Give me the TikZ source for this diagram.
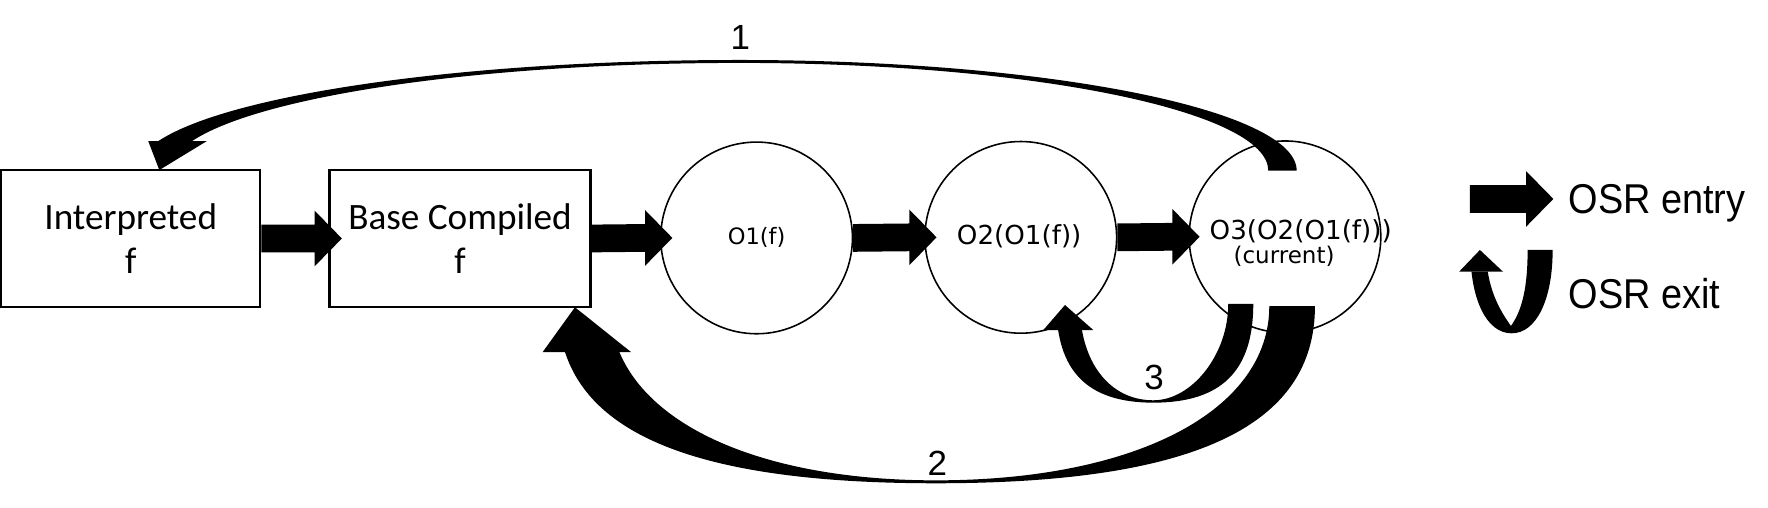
\documentclass[tikz,border=0pt]{standalone}
\usepackage{fontspec}
\setmainfont{Carlito}
\newfontfamily\cfont{DejaVu Sans}
\newfontfamily\afont{Liberation Sans}
\usetikzlibrary{calc}
\newcommand\osrentry[2]{\fill ($(#1)+(0,-12.3)$) -- ($(#2)+(-24.2,-12.3)$) -- ($(#2)+(-24.2,-24.7)$) -- (#2) -- ($(#2)+(-24.2,24.7)$) -- ($(#2)+(-24.2,12.3)$) -- ($(#1)+(0,12.3)$) -- cycle;}
\begin{document}
\begin{tikzpicture}[x=0.5pt,y=-0.5pt,
  boxnode/.style={draw,line width=1pt,minimum height=60.75pt,inner sep=0pt,align=center,font=\fontsize{16.5}{19.5}\selectfont},
  circnode/.style={draw,circle,line width=0.7pt,minimum size=85pt,inner sep=0pt},
  ctext/.style={inner sep=0pt,anchor=base,font=\cfont\fontsize{11.6}{13}\selectfont},
  numtext/.style={inner sep=0pt,anchor=base,font=\afont\fontsize{15.5}{17}\selectfont},
  legtext/.style={inner sep=0pt,anchor=base west,font=\afont\fontsize{16.8}{19}\selectfont}]
\fill[white] (0,0) rectangle (1568,450.5);
\useasboundingbox (0,0) rectangle (1568,450.5);
% nodes
\node[boxnode,minimum width=114.9pt] (interp) at (115.9,211.5) {Interpreted\\f};
\node[boxnode,minimum width=115.8pt] (base) at (408,211.5) {Base Compiled\\f};
\node[circnode] (o1) at (671,211) {};
\node[circnode] (o2) at (905.3,210.5) {};
\node[circnode] (o3) at (1139.6,210) {};
\node[ctext,font=\cfont\fontsize{10}{12}\selectfont] (l1) at (671,217) {O1(f)};
\node[ctext] (l2) at (903.9,216.4) {O2(O1(f))};
\node[ctext] (l3) at (1153.6,212.8) {O3(O2(O1(f)))};
\node[ctext,font=\cfont\fontsize{10.2}{12}\selectfont] (l4) at (1138.8,234.1) {(current)};
\node[numtext] (n1) at (656.5,43.7) {1};
\node[numtext] (n2) at (831.3,422.1) {2};
\node[numtext] (n3) at (1023.6,345.3) {3};
\node[legtext] (entrytxt) at (1390.8,189.2) {\scalebox{1}[1.1]{OSR entry}};
\node[legtext] (exittxt) at (1390.8,273.4) {\scalebox{1}[1.1]{OSR exit}};
% straight OSR entry arrows
\coordinate (t1) at ($(base.west)+(12,0)$);
\coordinate (t2) at ($(o1.west)+(11,0)$);
\coordinate (t3) at ($(o2.west)+(11,0)$);
\coordinate (t4) at ($(o3.west)+(10,0)$);
\osrentry{interp.east}{t1}
\osrentry{base.east}{t2}
\osrentry{o1.east}{t3}
\osrentry{o2.east}{t4}
\coordinate (la) at (1303.6,176.4);
\coordinate (lb) at (1377.6,176.4);
\osrentry{la}{lb}
% arrow 1: O3 -> Interpreted
\begin{scope}
\clip (0,0) -- (1568,0) -- (1568,450.5) -- (400,450.5) -- (400,125.2) -- (0,125.2) -- cycle;
\fill (1150,151.4) .. controls (1150,97.2) and (928.7,53.2) .. (656,53.2)
  .. controls (360.7,53.2) and (121,97.2) .. (121,151.4)
  -- (151,151.4) .. controls (151,98.6) and (377.2,55.8) .. (656,55.8)
  .. controls (914.8,55.8) and (1124.8,98.6) .. (1124.8,151.4) -- cycle;
\end{scope}
\fill (131.5,125.2) -- (141.3,150.8) -- (183.3,125.2) -- cycle;
% arrow 2: O3 -> Base Compiled
\begin{scope}
\clip (0,312.2) -- (700,312.2) -- (700,0) -- (1568,0) -- (1568,450.5) -- (0,450.5) -- cycle;
\fill (1166.2,271.4) .. controls (1166.2,378.3) and (1058.6,428.6) .. (830,428.6)
  .. controls (602.2,428.6) and (495,378.3) .. (495,271.4)
  -- (541.2,271.4) .. controls (541.2,364.2) and (656.7,426) .. (830,426)
  .. controls (1007.4,426) and (1125.7,364.2) .. (1125.7,271.4) -- cycle;
\end{scope}
\fill (481.3,312.2) -- (509.9,272.5) -- (559.6,312.2) -- cycle;
% arrow 3: O3 -> O2
\begin{scope}
\clip (900,292.7) -- (1000,292.7) -- (1000,0) -- (1568,0) -- (1568,450.5) -- (900,450.5) -- cycle;
\fill (1111.5,269.6) .. controls (1111.5,329.1) and (1083.1,357.1) .. (1022.8,357.1)
  .. controls (964.3,357.1) and (936.8,329.1) .. (936.8,269.6)
  -- (957.6,269.6) .. controls (957.6,320.8) and (983.7,355) .. (1022.8,355)
  .. controls (1057.4,355) and (1089.3,314) .. (1089.3,269.6) -- cycle;
\end{scope}
\fill (925.3,292.7) -- (944.5,270.5) -- (969.6,292.7) -- cycle;
% legend OSR exit
\begin{scope}
\clip (1280,241) -- (1337,241) -- (1337,0) -- (1568,0) -- (1568,450.5) -- (1280,450.5) -- cycle;
\fill (1377,221.7) .. controls (1377,266) and (1362.4,295.6) .. (1340.6,295.6)
  .. controls (1318.6,295.6) and (1304,266) .. (1304,221.7)
  -- (1318,221.7) .. controls (1318,255) and (1330,275) .. (1340,289.1)
  .. controls (1350,275) and (1354.8,255) .. (1354.8,221.7) -- cycle;
\end{scope}
\fill (1294,241) -- (1312.5,221.7) -- (1333,241) -- cycle;
\end{tikzpicture}
\end{document}
